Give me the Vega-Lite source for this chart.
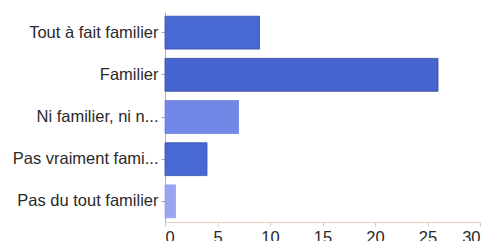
{
  "$schema": "https://vega.github.io/schema/vega-lite/v6.json",
  "autosize": "none",
  "padding": {"left": 165, "top": 12, "right": 11, "bottom": 19},
  "width": 315,
  "height": 210,
  "background": "white",
  "config": {"view": {"stroke": null}},
  "data": {
    "values": [
      {"reponse": "Tout à fait familier", "n": 9},
      {"reponse": "Familier", "n": 26},
      {"reponse": "Ni familier, ni n...", "n": 7},
      {"reponse": "Pas vraiment fami...", "n": 4},
      {"reponse": "Pas du tout familier", "n": 1}
    ]
  },
  "mark": {"type": "bar", "strokeWidth": 1, "strokeOpacity": 0.8},
  "encoding": {
    "y": {
      "field": "reponse",
      "type": "nominal",
      "sort": null,
      "scale": {"paddingInner": 0.22, "paddingOuter": 0.1},
      "axis": {
        "title": null,
        "labelFont": "Liberation Sans",
        "labelFontSize": 16.5,
        "labelColor": "#2a2a2a",
        "labelPadding": 3,
        "tickSize": 4,
        "tickColor": "#aaaaaa",
        "domainColor": "#b0b0b0",
        "labelLimit": 250
      }
    },
    "x": {
      "field": "n",
      "type": "quantitative",
      "scale": {"domain": [0, 30], "nice": false},
      "axis": {
        "title": null,
        "values": [0, 5, 10, 15, 20, 25, 30],
        "grid": false,
        "labelFont": "Liberation Sans",
        "labelFontSize": 16.5,
        "labelColor": "#2a2a2a",
        "labelPadding": 3,
        "tickSize": 4,
        "tickColor": "#d8c8c0",
        "domainColor": "#e0ccc0",
        "labelOverlap": false
      }
    },
    "color": {
      "field": "reponse",
      "type": "nominal",
      "legend": null,
      "scale": {
        "domain": ["Tout à fait familier", "Familier", "Ni familier, ni n...", "Pas vraiment fami...", "Pas du tout familier"],
        "range": ["#4868d4", "#4665d0", "#7388e6", "#4868d4", "#9ba4f0"]
      }
    },
    "stroke": {
      "field": "reponse",
      "type": "nominal",
      "legend": null,
      "scale": {
        "domain": ["Tout à fait familier", "Familier", "Ni familier, ni n...", "Pas vraiment fami...", "Pas du tout familier"],
        "range": ["#3550b0", "#33489e", "#6a80e0", "#3550b0", "#95a0ee"]
      }
    }
  }
}
